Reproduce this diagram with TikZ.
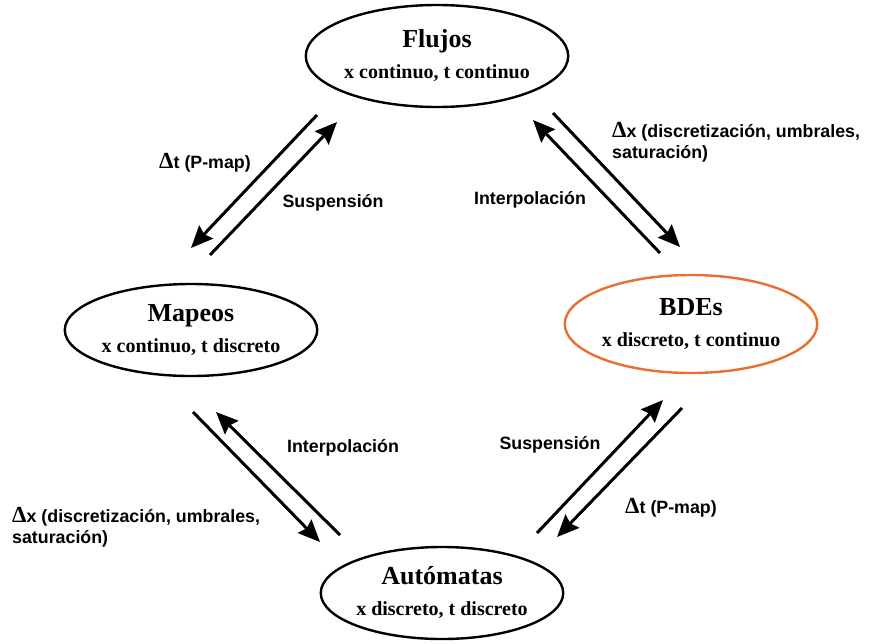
\documentclass[tikz,border=0pt]{standalone}
\usepackage{fontspec}
\setmainfont{Liberation Serif}
\setsansfont{Liberation Sans}
\usepackage{xcolor}
\usepackage{tikz}
\usetikzlibrary{shapes.geometric,arrows.meta}
\definecolor{naranja}{RGB}{234,110,46}
\newcommand{\titulo}[1]{{\fontsize{26}{31}\selectfont #1}}
\newcommand{\incr}[1]{{\rmfamily\fontsize{23}{22}\selectfont\textbf{Δ}}#1}

\begin{document}
\begin{tikzpicture}[
	x=1pt, y=-1pt,
	estado/.style={draw, ellipse, line width=2.4pt, inner sep=0pt, align=center,
		font=\bfseries\fontsize{20}{31}\selectfont},
	flecha/.style={draw, ->, line width=3pt, >={Stealth[length=22pt,width=19pt,inset=3pt]}},
	etiqueta/.style={font=\sffamily\bfseries\fontsize{17.8}{21}\selectfont, inner sep=0pt}
	]
	\useasboundingbox (0,0) rectangle (875,643);

	\node[estado, minimum width=226pt, minimum height=102pt] (flujos) at (437,56)
		{\titulo{Flujos}\\x continuo, t continuo};
	\node[estado, minimum width=233pt, minimum height=92pt] (mapeos) at (191,330)
		{\titulo{Mapeos}\\x continuo, t discreto};
	\node[estado, draw=naranja, minimum width=233pt, minimum height=98pt] (bdes) at (691,324)
		{\titulo{BDEs}\\x discreto, t continuo};
	\node[estado, minimum width=220pt, minimum height=92pt] (automatas) at (442,593)
		{\titulo{Autómatas}\\x discreto, t discreto};

	\coordinate (fm1) at (317,115);
	\coordinate (fm2) at (191,248);
	\coordinate (mf1) at (210,255);
	\coordinate (mf2) at (337,122);
	\coordinate (bf1) at (660,253);
	\coordinate (bf2) at (533,120);
	\coordinate (fb1) at (553,113);
	\coordinate (fb2) at (680,247);
	\coordinate (am1) at (340,535);
	\coordinate (am2) at (216,412);
	\coordinate (ma1) at (193,412);
	\coordinate (ma2) at (320,542);
	\coordinate (ab1) at (537,533);
	\coordinate (ab2) at (663,400);
	\coordinate (ba1) at (682,408);
	\coordinate (ba2) at (557,537);

	\draw[flecha] (fm1) -- (fm2);
	\draw[flecha] (mf1) -- (mf2);
	\draw[flecha] (bf1) -- (bf2);
	\draw[flecha] (fb1) -- (fb2);
	\draw[flecha] (am1) -- (am2);
	\draw[flecha] (ma1) -- (ma2);
	\draw[flecha] (ab1) -- (ab2);
	\draw[flecha] (ba1) -- (ba2);

	\node[etiqueta] (dtfm) at (205,163) {\incr{t (P-map)}};
	\node[etiqueta] (susmf) at (333,203) {Suspensión};
	\node[etiqueta] (intbf) at (530,200) {Interpolación};
	\node[etiqueta, anchor=west, align=left] (dxfb) at (612,142)
		{\incr{x (discretización, umbrales,}\\saturación)};
	\node[etiqueta] (intam) at (343,448) {Interpolación};
	\node[etiqueta, anchor=west, align=left] (dxma) at (12,527)
		{\incr{x (discretización, umbrales,}\\saturación)};
	\node[etiqueta] (susab) at (550,445) {Suspensión};
	\node[etiqueta] (dtba) at (671,508) {\incr{t (P-map)}};
\end{tikzpicture}
\end{document}
